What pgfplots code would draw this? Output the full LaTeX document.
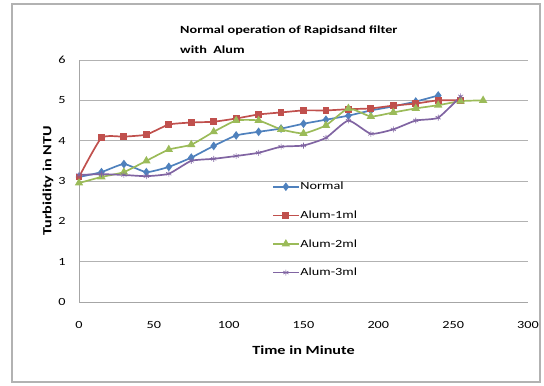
\documentclass[border=0pt]{standalone}
\usepackage{pgfplots}
\pgfplotsset{compat=1.18}
\usepackage{fontspec}
\setmainfont{Carlito}[FakeStretch=1.3]
\definecolor{cNormal}{RGB}{79,129,189}
\definecolor{cOne}{RGB}{192,80,77}
\definecolor{cTwo}{RGB}{155,187,89}
\definecolor{cThree}{RGB}{128,100,162}
\begin{document}
\begin{tikzpicture}[x=1bp,y=1bp]
\path (0,0) rectangle (544,385);
\draw[gray!60,line width=1.2pt] (12,3) rectangle (540,381);
\begin{axis}[at={(79bp,83bp)},anchor=south west,
  scale only axis, width=449bp, height=242bp,
  xmin=0, xmax=300, ymin=0, ymax=6,
  xtick={0,50,...,300}, ytick={0,1,...,6},
  axis x line*=bottom, axis y line*=left,
  axis line style={gray!70, line width=0.8pt},
  major tick length=0pt,
  ymajorgrids, grid style={gray!60, line width=0.8pt},
  tick label style={font=\fontsize{11}{13}\selectfont},
  /pgf/number format/assume math mode=true,
  xticklabel style={yshift=-16bp},
  yticklabel style={xshift=-10bp},
  xlabel={\textbf{Time in Minute}}, ylabel={\textbf{Turbidity in NTU}},
  xlabel style={font=\fontsize{12.5}{14}\selectfont, yshift=-10bp},
  ylabel style={font=\fontsize{12.5}{14}\selectfont, yshift=-2bp},
  legend style={at={(axis cs:129,3.0)}, anchor=north west, draw=none, fill=none,
    font=\fontsize{11}{13}\selectfont, row sep=17.5bp, legend cell align=left,
    inner sep=0pt, nodes={inner sep=1bp}},
  legend image code/.code={\draw[mark repeat=2,mark phase=2] plot coordinates {(0cm,0cm) (0.45cm,0cm) (0.9cm,0cm)};},
  every axis plot/.append style={line width=1.7pt, smooth, tension=0.3},
]
\addplot[color=cNormal, mark=diamond*, mark size=3pt] coordinates {
(0,3.1) (15,3.22) (30,3.42) (45,3.22) (60,3.35) (75,3.58) (90,3.87) (105,4.13) (120,4.22) (135,4.3) (150,4.42) (165,4.52) (180,4.62) (195,4.75) (210,4.85) (225,4.97) (240,5.12)};
\addlegendentry{Normal}
\addplot[color=cOne, mark=square*, mark size=2.6pt] coordinates {
(0,3.1) (15,4.07) (30,4.1) (45,4.15) (60,4.4) (75,4.45) (90,4.47) (105,4.55) (120,4.65) (135,4.7) (150,4.75) (165,4.75) (180,4.78) (195,4.8) (210,4.87) (225,4.92) (240,5.0) (255,5.0)};
\addlegendentry{Alum-1ml}
\addplot[color=cTwo, mark=triangle*, mark size=3.2pt] coordinates {
(0,2.95) (15,3.1) (30,3.22) (45,3.5) (60,3.78) (75,3.9) (90,4.22) (105,4.5) (120,4.5) (135,4.28) (150,4.18) (165,4.38) (180,4.8) (195,4.6) (210,4.7) (225,4.8) (240,4.88) (255,4.98) (270,5.0)};
\addlegendentry{Alum-2ml}
\addplot[color=cThree, mark=asterisk, mark size=3pt, mark options={line width=0.6pt}] coordinates {
(0,3.15) (15,3.17) (30,3.15) (45,3.12) (60,3.18) (75,3.5) (90,3.55) (105,3.62) (120,3.7) (135,3.85) (150,3.88) (165,4.07) (180,4.5) (195,4.17) (210,4.28) (225,4.5) (240,4.57) (255,5.1)};
\addlegendentry{Alum-3ml}
\end{axis}
\node[anchor=north west, align=left, font=\fontsize{11}{20}\selectfont\bfseries, inner sep=0pt] at (180,359) {Normal operation of Rapidsand filter\\with\ \ Alum};
\end{tikzpicture}
\end{document}
